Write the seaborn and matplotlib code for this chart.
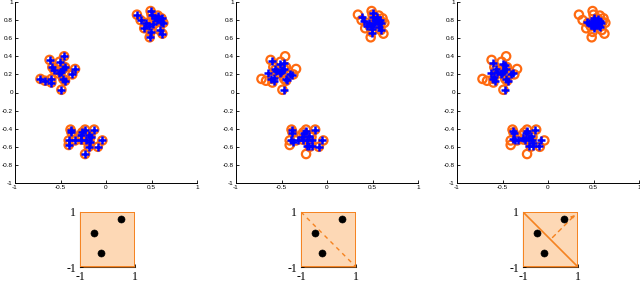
import matplotlib
matplotlib.use("Agg")
import matplotlib.pyplot as plt
import numpy as np
import pandas as pd
import seaborn as sns

# original samples (orange circles), three clusters: top-right, left, bottom
orig_x = [0.34, 0.49, 0.38, 0.44, 0.50, 0.54, 0.57, 0.61, 0.63, 0.59, 0.62, 0.49, 0.48, 0.42, 0.52, 0.47, 0.56, 0.60,
          -0.62, -0.51, -0.46, -0.59, -0.57, -0.50, -0.47, -0.45, -0.34, -0.37, -0.72, -0.67, -0.60, -0.60, -0.47, -0.45, -0.49, -0.52,
          -0.39, -0.38, -0.41, -0.41, -0.34, -0.26, -0.23, -0.27, -0.22, -0.19, -0.18, -0.19, -0.13, -0.09, -0.04, -0.23, -0.28, -0.17]
orig_y = [0.86, 0.90, 0.80, 0.77, 0.86, 0.82, 0.85, 0.82, 0.77, 0.69, 0.65, 0.67, 0.61, 0.71, 0.76, 0.73, 0.80, 0.78,
          0.36, 0.34, 0.40, 0.28, 0.25, 0.23, 0.26, 0.28, 0.26, 0.20, 0.15, 0.13, 0.15, 0.11, 0.15, 0.13, 0.03, 0.21,
          -0.41, -0.44, -0.53, -0.58, -0.53, -0.44, -0.41, -0.52, -0.53, -0.47, -0.55, -0.60, -0.41, -0.60, -0.53, -0.68, -0.47, -0.49]

# transformed samples (blue pluses), panels 2 and 3
step2_x = [0.39, 0.50, 0.41, 0.46, 0.50, 0.53, 0.55, 0.58, 0.59, 0.57, 0.59, 0.49, 0.49, 0.44, 0.52, 0.48, 0.54, 0.57,
           -0.60, -0.52, -0.47, -0.57, -0.56, -0.51, -0.49, -0.47, -0.38, -0.41, -0.65, -0.62, -0.58, -0.58, -0.45, -0.44, -0.47, -0.52,
           -0.39, -0.38, -0.40, -0.37, -0.32, -0.25, -0.23, -0.26, -0.22, -0.20, -0.17, -0.20, -0.13, -0.09, -0.06, -0.22, -0.28, -0.17]
step2_y = [0.83, 0.88, 0.79, 0.77, 0.83, 0.80, 0.83, 0.80, 0.77, 0.72, 0.69, 0.70, 0.66, 0.73, 0.76, 0.74, 0.79, 0.78,
           0.35, 0.31, 0.33, 0.26, 0.24, 0.23, 0.25, 0.26, 0.19, 0.20, 0.21, 0.15, 0.16, 0.13, 0.15, 0.14, 0.03, 0.21,
           -0.41, -0.45, -0.53, -0.55, -0.53, -0.45, -0.43, -0.52, -0.52, -0.48, -0.53, -0.59, -0.41, -0.60, -0.53, -0.59, -0.49, -0.59]
step3_x = [0.43, 0.51, 0.45, 0.48, 0.51, 0.53, 0.55, 0.57, 0.58, 0.56, 0.57, 0.51, 0.50, 0.47, 0.52, 0.50, 0.54, 0.56,
           -0.60, -0.50, -0.47, -0.57, -0.56, -0.51, -0.49, -0.46, -0.39, -0.41, -0.63, -0.60, -0.59, -0.58, -0.46, -0.44, -0.47, -0.52,
           -0.38, -0.37, -0.39, -0.36, -0.33, -0.24, -0.23, -0.25, -0.21, -0.19, -0.18, -0.21, -0.14, -0.10, -0.08, -0.17, -0.28, -0.17]
step3_y = [0.78, 0.82, 0.77, 0.76, 0.80, 0.79, 0.81, 0.79, 0.77, 0.74, 0.72, 0.73, 0.71, 0.75, 0.76, 0.75, 0.78, 0.78,
           0.33, 0.32, 0.30, 0.26, 0.23, 0.22, 0.24, 0.26, 0.22, 0.20, 0.21, 0.15, 0.17, 0.13, 0.15, 0.13, 0.03, 0.20,
           -0.42, -0.45, -0.51, -0.53, -0.53, -0.45, -0.43, -0.52, -0.50, -0.48, -0.53, -0.59, -0.41, -0.59, -0.53, -0.59, -0.50, -0.56]

# cluster centres shown in the small boxes
centre_x = [0.50, -0.50, -0.25]
centre_y = [0.73, 0.25, -0.50]

x_ticks = [-1, -0.5, 0, 0.5, 1]
y_ticks = [-1, -0.8, -0.6, -0.4, -0.2, 0, 0.2, 0.4, 0.6, 0.8, 1]

ORANGE = "#ff6a10"
BLUE = "#0000ff"
BOX_FACE = "#fdd8b5"
BOX_EDGE = "#f5821f"

sns.set_theme(style="white")
plt.rcParams["font.family"] = ["Liberation Sans", "DejaVu Sans"]

fig = plt.figure(figsize=(6.4, 2.85), dpi=100)

plus_sets = [(orig_x, orig_y), (step2_x, step2_y), (step3_x, step3_y)]
top_lefts = [15, 236, 457]
box_lefts = [80, 301, 523]

for i, (px, py) in enumerate(plus_sets):
    ax = fig.add_axes([top_lefts[i] / 640, 1 - 183 / 285, 182 / 640, 181 / 285])
    circles = pd.DataFrame({"x": orig_x, "y": orig_y})
    pluses = pd.DataFrame({"x": px, "y": py})
    sns.scatterplot(data=circles, x="x", y="y", ax=ax, marker="o", s=36,
                    color=ORANGE, linewidth=1.6, zorder=2)
    ax.collections[-1].set_facecolor("none")
    ax.collections[-1].set_edgecolor(ORANGE)
    sns.scatterplot(data=pluses, x="x", y="y", ax=ax, marker="+", s=28,
                    color=BLUE, linewidth=1.8, zorder=3)
    ax.set_xlim(-1, 1)
    ax.set_ylim(-1, 1)
    ax.set_xticks(x_ticks)
    ax.set_yticks(y_ticks)
    ax.set_xticklabels([f"{v:g}" for v in x_ticks])
    ax.set_yticklabels([f"{v:g}" for v in y_ticks])
    ax.set_xlabel("")
    ax.set_ylabel("")
    ax.tick_params(direction="in", length=2, width=0.6, labelsize=4.6, pad=1.5,
                   left=True, bottom=True, colors="black")
    for side in ("top", "right"):
        ax.spines[side].set_visible(False)
    for side in ("left", "bottom"):
        ax.spines[side].set_color("black")
        ax.spines[side].set_linewidth(0.7)
    ax.set_facecolor("white")

    # small box below
    bx = fig.add_axes([box_lefts[i] / 640, 1 - 267 / 285, 55 / 640, 55 / 285])
    bx.fill([-1, 1, 1, -1], [-1, -1, 1, 1], facecolor=BOX_FACE, edgecolor=BOX_EDGE,
            linewidth=1.4, zorder=1)
    if i == 1:
        bx.plot([-1, 1], [1, -1], color=BOX_EDGE, linestyle=(0, (3, 3)), linewidth=1.0, zorder=2)
    if i == 2:
        bx.plot([-1, 1], [1, -1], color=BOX_EDGE, linewidth=1.2, zorder=2)
        bx.annotate("", xy=(0.97, 0.97), xytext=(0, 0),
                    arrowprops=dict(arrowstyle="-|>", color=BOX_EDGE, lw=1.0,
                                    linestyle=(0, (3, 3)), mutation_scale=5))
    centres = pd.DataFrame({"x": centre_x, "y": centre_y})
    sns.scatterplot(data=centres, x="x", y="y", ax=bx, color="black", s=26,
                    edgecolor="black", zorder=3)
    bx.set_xlim(-1, 1)
    bx.set_ylim(-1, 1)
    bx.set_xticks([-1, 1])
    bx.set_yticks([-1, 1])
    bx.set_xticklabels(["-1", "1"], family=["Liberation Serif", "DejaVu Serif"])
    bx.set_yticklabels(["-1", "1"], family=["Liberation Serif", "DejaVu Serif"])
    bx.set_xlabel("")
    bx.set_ylabel("")
    bx.tick_params(direction="in", length=2, width=0.6, labelsize=8.5, pad=3,
                   left=True, bottom=True, colors="black")
    for side in bx.spines:
        bx.spines[side].set_visible(False)
    for side in ("left", "bottom"):
        bx.spines[side].set_visible(True)
        bx.spines[side].set_color("#7a4a20")
        bx.spines[side].set_linewidth(0.8)
        bx.spines[side].set_zorder(0.5)

fig.savefig("out.png", dpi=100, facecolor="white")
